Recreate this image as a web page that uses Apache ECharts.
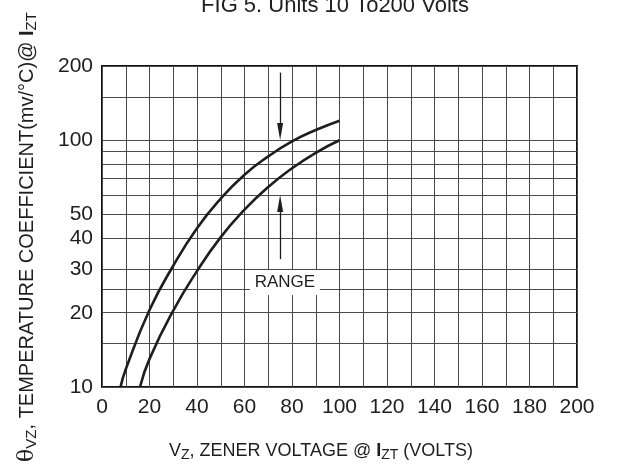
<!DOCTYPE html>
<html>
<head>
<meta charset="utf-8">
<script src="https://cdn.jsdelivr.net/npm/echarts@6/dist/echarts.min.js"></script>
<style>
html,body{margin:0;padding:0;background:#fff;}
#c{width:628px;height:468px;}
</style>
</head>
<body>
<div id="c"></div>
<script>
// ---- data ----
const xLabelValues = [0, 20, 40, 60, 80, 100, 120, 140, 160, 180, 200];
const xGridValues = [0, 10, 20, 30, 40, 50, 60, 70, 80, 90, 100, 110, 120, 130, 140, 150, 160, 170, 180, 190, 200];
const yLabelValues = [10, 20, 30, 40, 50, 100, 200];
const yGridValues = [10, 15, 20, 25, 30, 40, 50, 60, 70, 80, 90, 100, 150, 200];

// upper limit of the range (Vz in volts, temperature coefficient in mV/°C)
const upperVz = [7.8, 10, 20, 30, 40, 50, 60, 70, 80, 90, 100];
const upperTc = [10, 11.8, 20.5, 31, 44, 58, 72.5, 86, 99, 110, 120];
// lower limit of the range
const lowerVz = [16, 20, 30, 40, 50, 60, 70, 80, 90, 100];
const lowerTc = [10, 13, 20.4, 29.5, 40.5, 52.3, 64.7, 77, 89, 100];

// "RANGE" annotation (arrow tail value, arrow head centre value)
const arrowVz = 75;
const downArrow = [188, 108.6];
const upArrow = [33, 55.4];
const rangeLabelPos = [77, 26.5];

const FONT = "'Liberation Sans', Arial, sans-serif";
const INK = '#1e1e1e';

const chart = echarts.init(document.getElementById('c'));
chart.setOption({
  animation: false,
  backgroundColor: '#fff',
  grid: {left: 102, right: 51, top: 66, bottom: 81, show: true, borderColor: '#111', borderWidth: 2},
  xAxis: {
    type: 'value', min: 0, max: 200,
    axisLine: {show: false},
    axisTick: {show: false, customValues: xGridValues},
    axisLabel: {customValues: xLabelValues, fontFamily: FONT, fontSize: 21, color: INK, margin: 10},
    splitLine: {show: true, lineStyle: {color: '#4a4a4a', width: 1}}
  },
  yAxis: {
    type: 'log', logBase: 10, min: 10, max: 200,
    axisLine: {show: false},
    axisTick: {show: false, customValues: yGridValues},
    axisLabel: {customValues: yLabelValues, fontFamily: FONT, fontSize: 21, color: INK, margin: 9},
    splitLine: {show: true, lineStyle: {color: '#4a4a4a', width: 1}}
  },
  graphic: [
    {type: 'text', x: 335, y: 5.5, style: {text: 'FIG 5. Units 10 To200 Volts', font: '22px ' + FONT, fill: INK, align: 'center', verticalAlign: 'middle'}},
    {type: 'text', x: 321, y: 451, style: {
      text: 'V{sub|Z}, ZENER VOLTAGE @ {b|I}{sub|ZT} (VOLTS)',
      font: '18px ' + FONT, fill: INK, align: 'center', verticalAlign: 'middle',
      rich: {
        sub: {fontSize: 14, fontFamily: FONT, fill: INK, padding: [9, 0, 0, 0]},
        b: {fontSize: 18, fontFamily: FONT, fontWeight: 'bold', fill: INK}
      }}},
    {type: 'text', x: 27, y: 237, rotation: Math.PI / 2, style: {
      text: '{th|θ}{sub|VZ}, TEMPERATURE COEFFICIENT(mv/°C)@ {b|I}{sub|ZT}',
      font: '20px ' + FONT, fill: INK, align: 'center', verticalAlign: 'middle',
      rich: {
        th: {fontSize: 22, fontFamily: "'DejaVu Serif', serif", fill: INK},
        sub: {fontSize: 15, fontFamily: FONT, fill: INK, padding: [10, 0, 0, 0]},
        b: {fontSize: 20, fontFamily: FONT, fontWeight: 'bold', fill: INK}
      }}}
  ],
  series: [
    {
      name: 'upper', type: 'line', smooth: 0.5, showSymbol: false, silent: true,
      data: upperVz.map((v, i) => [v, upperTc[i]]),
      lineStyle: {color: INK, width: 2.6}, z: 5
    },
    {
      name: 'lower', type: 'line', smooth: 0.5, showSymbol: false, silent: true,
      data: lowerVz.map((v, i) => [v, lowerTc[i]]),
      lineStyle: {color: INK, width: 2.6}, z: 5
    },
    {
      name: 'range', type: 'line', data: [], silent: true,
      markLine: {
        silent: true, animation: false,
        symbol: ['none', 'triangle'], symbolSize: [6, 17],
        lineStyle: {color: INK, width: 1.3, type: 'solid'},
        label: {show: false},
        data: [
          [{coord: [arrowVz, downArrow[0]]}, {coord: [arrowVz, downArrow[1]]}],
          [{coord: [arrowVz, upArrow[0]]}, {coord: [arrowVz, upArrow[1]]}]
        ]
      },
      markPoint: {
        silent: true, animation: false,
        symbol: 'rect', symbolSize: [70, 25],
        itemStyle: {color: '#fff'},
        label: {show: true, position: 'inside', formatter: 'RANGE', fontFamily: FONT, fontSize: 17, color: INK},
        data: [{coord: rangeLabelPos, value: 0}]
      }
    }
  ]
});
</script>
</body>
</html>
